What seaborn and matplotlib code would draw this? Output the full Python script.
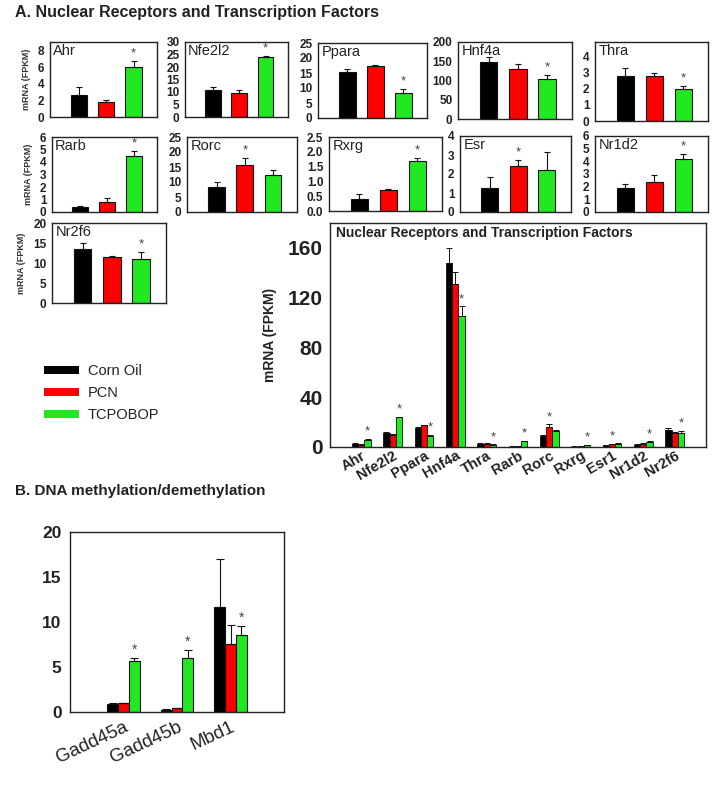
import matplotlib
matplotlib.use('Agg')
import matplotlib.pyplot as plt
import numpy as np
import pandas as pd
import seaborn as sns

W, H = 721, 793

groups = ['Corn Oil', 'PCN', 'TCPOBOP']
colors = ['#000000', '#ff0000', '#22e822']

# small panels (Corn Oil, PCN, TCPOBOP)
panel_names = ['Ahr', 'Nfe2l2', 'Ppara', 'Hnf4a', 'Thra',
               'Rarb', 'Rorc', 'Rxrg', 'Esr', 'Nr1d2', 'Nr2f6']
panel_means = [[2.7, 1.8, 6.0], [11.0, 9.5, 24.0], [15.5, 17.5, 8.5],
               [148, 131, 104], [2.8, 2.8, 2.0], [0.4, 0.8, 4.5],
               [8.5, 15.8, 12.5], [0.4, 0.7, 1.7], [1.25, 2.4, 2.2],
               [1.9, 2.35, 4.2], [13.5, 11.5, 11.0]]
panel_errs = [[0.9, 0.3, 0.7], [1.0, 1.3, 0.3], [0.7, 0.3, 1.3],
              [13, 12, 10], [0.5, 0.2, 0.15], [0.1, 0.3, 0.4],
              [1.5, 2.3, 1.5], [0.18, 0.03, 0.1], [0.6, 0.35, 0.95],
              [0.35, 0.55, 0.35], [1.5, 0.2, 1.8]]
panel_star = [2, 2, 2, 2, 2, 2, 1, 2, 1, 2, 2]
panel_ymax = [9, 30, 25, 200, 4.9, 6, 25, 2.5, 4, 6, 20]
panel_step = [2, 5, 5, 50, 1, 1, 5, 0.5, 1, 1, 5]

# summary panel
big_genes = ['Ahr', 'Nfe2l2', 'Ppara', 'Hnf4a', 'Thra', 'Rarb',
             'Rorc', 'Rxrg', 'Esr1', 'Nr1d2', 'Nr2f6']
big_corn = [2.7, 11.0, 15.5, 148, 2.8, 0.4, 8.5, 0.4, 1.25, 1.9, 14.0]
big_pcn = [1.8, 9.5, 17.5, 131, 2.8, 0.8, 15.8, 0.7, 2.4, 2.35, 11.5]
big_tcp = [6.0, 24.0, 8.5, 105, 2.0, 4.5, 12.5, 1.7, 2.2, 4.2, 11.0]
big_corn_err = [0.9, 1.0, 0.7, 12, 0.5, 0.1, 1.5, 0.18, 0.6, 0.35, 1.5]
big_pcn_err = [0.3, 1.3, 0.3, 10, 0.2, 0.3, 2.3, 0.03, 0.35, 0.55, 0.2]
big_tcp_err = [0.7, 0.3, 1.3, 8, 0.15, 0.4, 1.5, 0.1, 0.95, 0.35, 1.8]
big_star = [2, 2, 2, 2, 2, 2, 1, 2, 1, 2, 2]

# DNA methylation panel
b_genes = ['Gadd45a', 'Gadd45b', 'Mbd1']
b_corn = [0.9, 0.25, 11.7]
b_pcn = [1.0, 0.45, 7.6]
b_tcp = [5.7, 6.0, 8.6]
b_corn_err = [0.05, 0.05, 5.3]
b_pcn_err = [0.05, 0.05, 2.1]
b_tcp_err = [0.3, 0.9, 1.0]
b_star = [2, 2, 2]

sns.set_style("white")
plt.rcParams['font.family'] = ['Liberation Sans', 'DejaVu Sans']

fig = plt.figure(figsize=(W / 100, H / 100), dpi=100)


def box(x0, y0, x1, y1):
    return [x0 / W, 1 - y1 / H, (x1 - x0) / W, (y1 - y0) / H]


def style_axes(ax, lw=1.0):
    for s in ax.spines.values():
        s.set_visible(True)
        s.set_color('#222222')
        s.set_linewidth(lw)


# positions of small panels in pixels
panel_boxes = [(50, 42, 157, 117), (185, 42, 288, 117), (318, 43, 427, 118),
               (458, 42, 572, 119), (595, 42, 708, 121),
               (52, 137, 157, 212), (187, 137, 297, 212), (329, 137, 442, 211),
               (460, 136, 571, 212), (595, 136, 708, 212),
               (52, 223, 166, 303)]

for i, name in enumerate(panel_names):
    ax = fig.add_axes(box(*panel_boxes[i]))
    df = pd.DataFrame({'group': groups, 'value': panel_means[i]})
    sns.barplot(data=df, x='group', y='value', hue='group', palette=colors,
                saturation=1, width=0.6, edgecolor='#111111', linewidth=0.8,
                legend=False, ax=ax)
    errs = panel_errs[i]
    ax.errorbar(range(3), panel_means[i], yerr=[[0, 0, 0], errs], fmt='none',
                ecolor='#111111', elinewidth=0.8, capsize=2.5, capthick=0.8)
    k = panel_star[i]
    ax.text(k, panel_means[i][k] + errs[k] + panel_ymax[i] * 0.02, '*',
            ha='center', va='bottom', fontsize=9.5, color='#444444')
    ax.set_xlim(-1.05, 2.85)
    ax.set_ylim(0, panel_ymax[i])
    ax.set_yticks(np.arange(0, panel_ymax[i] + 1e-6, panel_step[i]))
    if name == 'Rxrg':
        ax.set_yticklabels([f'{t:.1f}' for t in ax.get_yticks()])
    else:
        ax.set_yticklabels([f'{t:g}' for t in ax.get_yticks()])
    ax.set_xticks(range(3))
    ax.set_xticklabels([])
    ax.set_xlabel('')
    ax.set_ylabel('')
    ax.tick_params(axis='both', direction='out', length=2.5, width=0.7,
                   pad=1.5, labelsize=8.5, colors='#222222')
    for t in ax.get_yticklabels():
        t.set_fontweight('bold')
    ax.text(0.03, 0.97, name, transform=ax.transAxes, ha='left', va='top',
            fontsize=10.5, color='#222222')
    style_axes(ax)
    if panel_boxes[i][0] < 60:
        ax.set_ylabel('mRNA (FPKM)', fontsize=6.5, fontweight='bold',
                      color='#333333', labelpad=5)

# summary panel
big = fig.add_axes(box(330, 223, 706, 447))
long_rows = []
for g, m, e in zip(groups, [big_corn, big_pcn, big_tcp],
                   [big_corn_err, big_pcn_err, big_tcp_err]):
    for gene, v, ev in zip(big_genes, m, e):
        long_rows.append({'gene': gene, 'group': g, 'value': v, 'err': ev})
big_df = pd.DataFrame(long_rows)
sns.barplot(data=big_df, x='gene', y='value', hue='group', palette=colors,
            saturation=1, width=0.6, edgecolor='#111111', linewidth=0.6,
            legend=False, ax=big)
bars = big.patches
for j, bar in enumerate(bars[:len(big_df)]):
    row = big_df.iloc[j]
    xc = bar.get_x() + bar.get_width() / 2
    big.errorbar(xc, row['value'], yerr=[[0], [row['err']]], fmt='none',
                 ecolor='#111111', elinewidth=0.7, capsize=2, capthick=0.7)
    gi = big_genes.index(row['gene'])
    if groups.index(row['group']) == big_star[gi]:
        big.text(xc, row['value'] + row['err'] + 1.0, '*', ha='center',
                 va='bottom', fontsize=9.5, color='#444444')
big.set_xlim(-1, 11)
big.set_ylim(0, 180)
big.set_yticks([0, 40, 80, 120, 160])
big.set_xlabel('')
big.set_ylabel('mRNA (FPKM)', fontsize=10, fontweight='bold', color='#222222',
               labelpad=8)
big.tick_params(axis='y', direction='out', length=3, width=0.8, labelsize=15,
                colors='#222222', pad=2)
big.tick_params(axis='x', length=0, labelsize=10.5, colors='#222222', pad=1)
for t in big.get_yticklabels():
    t.set_fontweight('bold')
for t in big.get_xticklabels():
    t.set_fontweight('bold')
    t.set_rotation(30)
    t.set_ha('right')
    t.set_rotation_mode('anchor')
big.text(0.015, 0.985, 'Nuclear Receptors and Transcription Factors',
         transform=big.transAxes, ha='left', va='top', fontsize=10,
         fontweight='bold', color='#222222')
style_axes(big)

# legend
handles = [plt.Rectangle((0, 0), 1, 1, facecolor=c, edgecolor='none') for c in colors]
fig.legend(handles, groups, loc='upper left', bbox_to_anchor=(44 / W, 1 - 364 / H),
           frameon=False, fontsize=10.5, handlelength=2.4, handleheight=0.45,
           handletextpad=0.6, labelspacing=0.55, borderpad=0, borderaxespad=0,
           labelcolor='#222222')

# panel B
bax = fig.add_axes(box(70, 532, 284, 712))
b_rows = []
for g, m, e in zip(groups, [b_corn, b_pcn, b_tcp], [b_corn_err, b_pcn_err, b_tcp_err]):
    for gene, v, ev in zip(b_genes, m, e):
        b_rows.append({'gene': gene, 'group': g, 'value': v, 'err': ev})
b_df = pd.DataFrame(b_rows)
sns.barplot(data=b_df, x='gene', y='value', hue='group', palette=colors,
            saturation=1, width=0.6, edgecolor='#111111', linewidth=0.8,
            legend=False, ax=bax)
for j, bar in enumerate(bax.patches[:len(b_df)]):
    row = b_df.iloc[j]
    xc = bar.get_x() + bar.get_width() / 2
    bax.errorbar(xc, row['value'], yerr=[[0], [row['err']]], fmt='none',
                 ecolor='#111111', elinewidth=0.8, capsize=3, capthick=0.8)
    gi = b_genes.index(row['gene'])
    if groups.index(row['group']) == b_star[gi]:
        bax.text(xc, row['value'] + row['err'] + 0.1, '*', ha='center',
                 va='bottom', fontsize=10, color='#444444')
bax.set_xlim(-1, 3)
bax.set_ylim(0, 20)
bax.set_yticks([0, 5, 10, 15, 20])
bax.set_xlabel('')
bax.set_ylabel('')
bax.tick_params(axis='y', direction='out', length=3, width=0.8, labelsize=12.5,
                colors='#222222', pad=3)
bax.tick_params(axis='x', direction='out', length=3, width=0.8, labelsize=13.5,
                colors='#222222', pad=2)
for t in bax.get_yticklabels():
    t.set_fontweight('bold')
for t in bax.get_xticklabels():
    t.set_rotation(25)
    t.set_ha('right')
    t.set_rotation_mode('anchor')
style_axes(bax)

fig.text(15 / W, 1 - 13 / H, 'A. Nuclear Receptors and Transcription Factors',
         ha='left', va='center', fontsize=11.5, fontweight='bold', color='#222222')
fig.text(15 / W, 1 - 491 / H, 'B. DNA methylation/demethylation',
         ha='left', va='center', fontsize=11, fontweight='bold', color='#222222')

fig.savefig('out.png', dpi=100)
